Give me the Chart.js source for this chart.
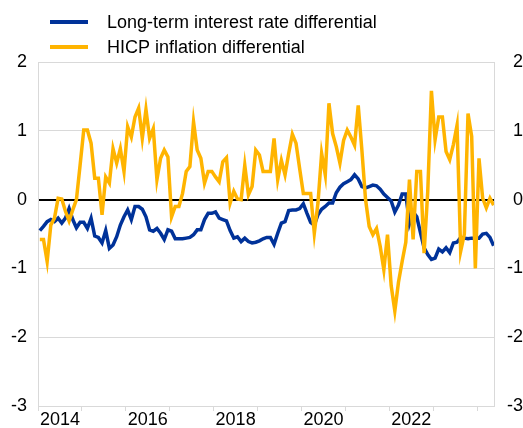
<!DOCTYPE html>
<html>
<head>
<meta charset="utf-8">
<script src="https://cdn.jsdelivr.net/npm/chart.js@4.4.1/dist/chart.umd.min.js"></script>
<style>
  html, body { margin: 0; padding: 0; background: #fff; }
  #wrap { width: 523px; height: 428px; }
</style>
</head>
<body>
<div id="wrap"><canvas id="chart"></canvas></div>
<script>
// Monthly observations, Jan 2014 onwards
const startYear = 2014;

const rateDiff = [
  -0.45, -0.39, -0.32, -0.29, -0.32, -0.27, -0.34, -0.27, -0.13, -0.29, -0.41, -0.33,
  -0.33, -0.42, -0.27, -0.53, -0.55, -0.63, -0.45, -0.71, -0.66, -0.54, -0.37, -0.25,
  -0.15, -0.29, -0.10, -0.10, -0.14, -0.25, -0.44, -0.46, -0.42, -0.49, -0.58, -0.44,
  -0.46, -0.57, -0.57, -0.57, -0.56, -0.55, -0.51, -0.44, -0.44, -0.29, -0.20, -0.20,
  -0.18, -0.27, -0.29, -0.31, -0.45, -0.56, -0.54, -0.61, -0.56, -0.61, -0.63, -0.62,
  -0.60, -0.57, -0.55, -0.55, -0.65, -0.49, -0.34, -0.32, -0.16, -0.15, -0.15, -0.13,
  -0.06, -0.20, -0.33, -0.37, -0.22, -0.14, -0.10, -0.05, -0.05, 0.10, 0.18, 0.23,
  0.26, 0.29, 0.36, 0.30, 0.19, 0.17, 0.19, 0.21, 0.20, 0.15, 0.08, 0.03,
  -0.02, -0.18, -0.08, 0.08, 0.08, -0.35, -0.18, -0.25, -0.48, -0.70, -0.80, -0.87,
  -0.85, -0.72, -0.76, -0.70, -0.77, -0.63, -0.62, -0.55, -0.56, -0.57, -0.56, -0.56,
  -0.56, -0.50, -0.49, -0.55, -0.67
];

const hicpDiff = [
  -0.58, -0.58, -0.90, -0.37, -0.27, 0.02, 0.01, -0.17, -0.31, -0.15, 0.00, 0.50,
  1.01, 1.01, 0.82, 0.31, 0.31, -0.22, 0.33, 0.24, 0.74, 0.53, 0.74, 0.41,
  1.06, 0.91, 1.20, 1.33, 0.89, 1.31, 0.89, 1.03, 0.29, 0.60, 0.72, 0.62,
  -0.25, -0.10, -0.10, 0.09, 0.41, 0.48, 1.13, 0.72, 0.60, 0.24, 0.41, 0.41,
  0.33, 0.26, 0.55, 0.61, -0.05, 0.12, 0.01, 0.00, 0.50, 0.07, 0.19, 0.72,
  0.65, 0.41, 0.41, 0.41, 0.89, 0.29, 0.57, 0.36, 0.67, 0.95, 0.82, 0.45,
  0.09, 0.09, 0.09, -0.49, -0.05, 0.67, 0.36, 1.40, 0.96, 0.77, 0.53, 0.86,
  1.01, 0.91, 0.79, 1.37, 0.72, 0.00, -0.39, -0.51, -0.42, -0.68, -1.02, -0.51,
  -1.25, -1.62, -1.20, -0.90, -0.62, 0.29, -0.58, 0.41, 0.41, -0.78, 0.12, 1.58,
  0.87, 1.20, 1.20, 0.70, 0.58, 0.80, 1.08, -0.75, -0.50, 1.25, 0.92, -1.00,
  0.60, 0.02, -0.12, 0.02, -0.08
];

const yTicks = [-3, -2, -1, 0, 1, 2];
const yearLabels = ['2014', '2016', '2018', '2020', '2022'];

const seriesNames = ['Long-term interest rate differential', 'HICP inflation differential'];
const blue = '#003299';
const yellow = '#ffb400';
const gridGrey = '#d9d9d9';
const FONT = '"Liberation Sans", Arial, sans-serif';

// month index -> point placed mid-month
const toPoints = (arr) => arr.map((v, i) => ({ x: i + 0.5, y: v }));

// simple two-row legend drawn in the top band
const topLegend = {
    id: 'topLegend',
    afterDraw(chart) {
        const { ctx } = chart;
        const rows = [22, 47];
        ctx.save();
        chart.data.datasets.forEach((ds, i) => {
            const idx = seriesNames.indexOf(ds.label);
            const y = rows[idx];
            ctx.strokeStyle = ds.borderColor;
            ctx.lineWidth = 4;
            ctx.beginPath();
            ctx.moveTo(50, y);
            ctx.lineTo(88, y);
            ctx.stroke();
            ctx.fillStyle = '#000';
            ctx.font = '18px ' + FONT;
            ctx.textBaseline = 'middle';
            ctx.textAlign = 'left';
            ctx.fillText(ds.label, 107, y + 1);
        });
        ctx.restore();
    }
};

const yAxisBase = {
    type: 'linear',
    min: -3,
    max: 2,
    afterBuildTicks: (s) => { s.ticks = yTicks.map(v => ({ value: v })); },
    ticks: {
        color: '#000',
        font: { family: FONT, size: 18 },
        padding: 11,
    },
};

new Chart(document.getElementById('chart'), {
    type: 'line',
    data: {
        datasets: [
            {
                label: seriesNames[0],
                data: toPoints(rateDiff),
                borderColor: blue,
                borderWidth: 3.5,
                pointRadius: 0,
                tension: 0,
                order: 1,
            },
            {
                label: seriesNames[1],
                data: toPoints(hicpDiff),
                borderColor: yellow,
                borderWidth: 3.5,
                pointRadius: 0,
                tension: 0,
                order: 0,
            },
        ],
    },
    options: {
        responsive: true,
        maintainAspectRatio: false,
        animation: false,
        layout: { padding: { top: 62, left: 0, right: 0, bottom: 0 } },
        scales: {
            x: {
                type: 'linear',
                min: 0,
                max: 124.6,
                afterBuildTicks: (s) => {
                    const t = [];
                    for (let v = 0; v <= 120; v += 6) t.push({ value: v });
                    s.ticks = t;
                },
                afterFit: (s) => { s.height = 22; },
                grid: {
                    drawOnChartArea: false,
                    drawTicks: true,
                    tickLength: 5,
                    color: (c) => (c.tick && c.tick.value % 12 === 0) ? gridGrey : 'rgba(0,0,0,0)',
                },
                border: { color: gridGrey, width: 1 },
                ticks: {
                    autoSkip: false,
                    maxRotation: 0,
                    color: '#000',
                    padding: 0,
                    font: { family: FONT, size: 18, lineHeight: 1 },
                    callback: (v) => {
                        if ((v - 6) % 24 !== 0) return '';
                        return yearLabels[(v - 6) / 24] || '';
                    },
                },
            },
            y: {
                ...yAxisBase,
                position: 'left',
                afterFit: (s) => { s.width = 38; },
                grid: {
                    drawTicks: false,
                    color: (c) => (c.tick && c.tick.value === 0) ? '#000' : gridGrey,
                    lineWidth: (c) => (c.tick && c.tick.value === 0) ? 2 : 1,
                },
                border: { color: gridGrey, width: 1 },
            },
            y2: {
                ...yAxisBase,
                position: 'right',
                afterFit: (s) => { s.width = 29; },
                grid: { drawOnChartArea: false, drawTicks: false },
                border: { color: gridGrey, width: 1 },
                ticks: { ...yAxisBase.ticks, crossAlign: 'far' },
            },
        },
        plugins: {
            legend: { display: false },
            tooltip: { enabled: false },
        },
    },
    plugins: [topLegend],
});
</script>
</body>
</html>
